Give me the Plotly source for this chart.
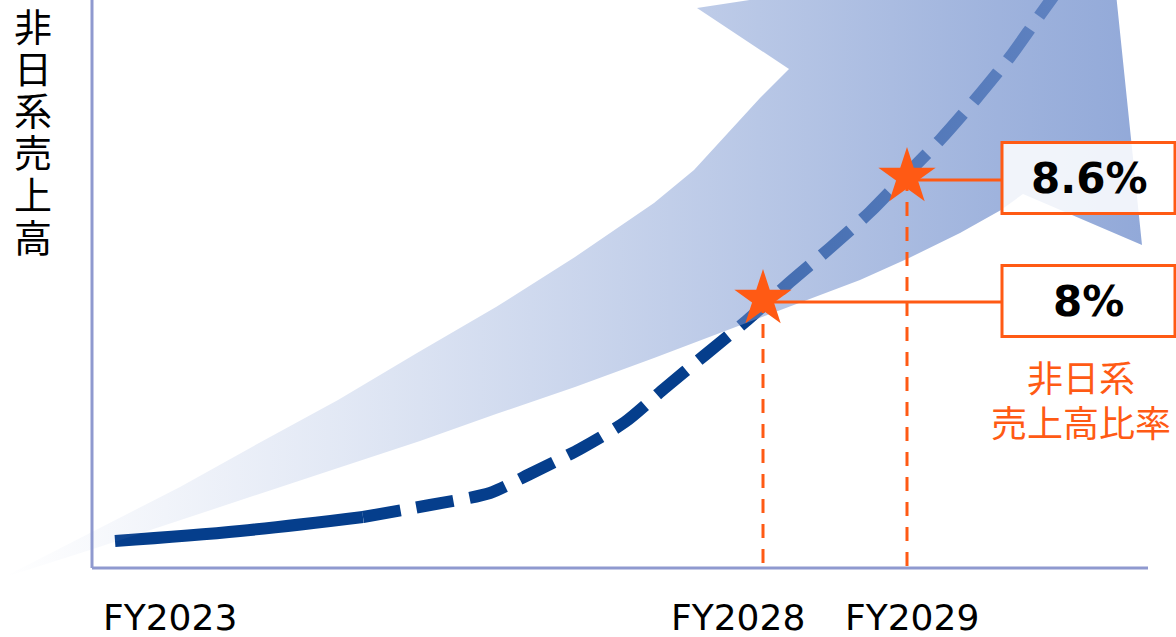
import plotly.graph_objects as go

# Data units: x = distance to the right of the vertical axis, y = height above the horizontal axis
# Sales trajectory (actual part, solid)
solid_x = [23, 148, 271]
solid_y = [27, 37, 51]
# Sales trajectory (plan part, dashed)
plan_x = [271, 338, 398, 438, 488, 533, 573, 613, 653, 698, 738, 778, 813, 848, 883, 918, 943, 966]
plan_y = [51, 63, 75, 94, 119, 146, 180, 213, 246, 286, 320, 356, 392, 428, 468, 511, 546, 578]

# Growth arrow outline (upper edge -> arrow head -> lower edge)
arrow_x = [-90, -2, 88, 167, 246, 325, 404, 483, 523, 562, 602, 641, 668, 697,
           605, 1019, 1050, 931,
           909, 868, 817, 768, 708, 641, 562, 483, 404, 328, 246, 168, 88, -2, -90]
arrow_y = [-10, 35, 81, 125, 168, 215, 261, 311, 338, 365, 398, 440, 470, 499,
           560, 623, 323, 374,
           358, 335, 310, 288, 265, 240, 210, 181, 154, 127, 100, 74, 48, 18, -10]

# Milestones
milestone_labels = ["FY2028", "FY2029"]
milestone_x = [671, 815]
milestone_y = [269, 391]
ratio_labels = ["8%", "8.6%"]
ratio_box_y = [267, 390]
connector_y = [266, 388]

# Axis tick labels
tick_labels = ["FY2023", "FY2028", "FY2029"]
tick_x = [78, 646, 820]

y_title = "非日系売上高"
caption_lines = ["非日系", "売上高比率"]

NAVY = "#053E8C"
ORANGE = "#FF5A14"
AXIS = "#8F99CF"
BOX_X0, BOX_X1 = 910, 1083

fig = go.Figure()

# trajectory
fig.add_trace(go.Scatter(x=solid_x, y=solid_y, mode="lines",
                         line=dict(color=NAVY, width=12, shape="spline"), hoverinfo="skip"))
fig.add_trace(go.Scatter(x=plan_x, y=plan_y, mode="lines",
                         line=dict(color=NAVY, width=12, shape="spline", smoothing=0.7, dash="38px,16px"),
                         hoverinfo="skip"))

# arrow with horizontal gradient (drawn over the line, semi transparent)
fig.add_trace(go.Scatter(x=arrow_x, y=arrow_y, mode="lines", fill="toself",
                         line=dict(width=0, color="rgba(0,0,0,0)"),
                         fillgradient=dict(type="horizontal",
                                           colorscale=[[0, "rgba(122,150,208,0.0)"],
                                                       [0.3, "rgba(122,150,208,0.22)"],
                                                       [0.66, "rgba(122,150,208,0.53)"],
                                                       [0.87, "rgba(122,150,208,0.72)"],
                                                       [1, "rgba(122,150,208,0.82)"]]),
                         hoverinfo="skip"))

# vertical dashed guides and connectors
for mx, my, cy in zip(milestone_x, milestone_y, connector_y):
    fig.add_trace(go.Scatter(x=[mx, mx], y=[my, 0], mode="lines",
                             line=dict(color=ORANGE, width=3, dash="14px,11px"), hoverinfo="skip"))
    fig.add_trace(go.Scatter(x=[mx, BOX_X0], y=[cy, cy], mode="lines",
                             line=dict(color=ORANGE, width=3), hoverinfo="skip"))

# stars
fig.add_trace(go.Scatter(x=milestone_x, y=milestone_y, mode="markers",
                         marker=dict(symbol="star", size=43, color=ORANGE, line=dict(width=0)),
                         hoverinfo="skip"))

shapes = [
    dict(type="line", x0=0, x1=0, y0=0, y1=600, line=dict(color=AXIS, width=3), layer="below"),
    dict(type="line", x0=0, x1=1056, y0=0, y1=0, line=dict(color=AXIS, width=3), layer="below"),
]
for by in ratio_box_y:
    shapes.append(dict(type="rect", x0=BOX_X0, x1=BOX_X1, y0=by - 35.5, y1=by + 35.5,
                       line=dict(color=ORANGE, width=3), fillcolor="rgba(255,255,255,0.86)",
                       layer="above"))

annotations = []
for lab, by in zip(ratio_labels, ratio_box_y):
    annotations.append(dict(x=(BOX_X0 + BOX_X1) / 2, y=by, text="<b>" + lab + "</b>", showarrow=False,
                            font=dict(family="DejaVu Sans", size=42, color="black"),
                            xanchor="center", yanchor="middle"))
for i, line in enumerate(caption_lines):
    annotations.append(dict(x=989, y=192 - i * 45, text=line, showarrow=False,
                            font=dict(family="Noto Sans CJK JP", size=36, color=ORANGE),
                            xanchor="center", yanchor="middle"))
for lab, tx in zip(tick_labels, tick_x):
    annotations.append(dict(x=tx, y=-49, text=lab, showarrow=False,
                            font=dict(family="DejaVu Sans", size=36, color="black"),
                            xanchor="center", yanchor="middle"))
for i, ch in enumerate(y_title):
    annotations.append(dict(x=-59, y=544 - i * 42.2, text=ch, showarrow=False,
                            font=dict(family="Noto Sans CJK JP", size=38, color="black"),
                            xanchor="center", yanchor="middle"))

fig.update_layout(
    width=1176, height=637,
    margin=dict(l=0, r=0, t=0, b=0),
    paper_bgcolor="white", plot_bgcolor="white",
    showlegend=False,
    xaxis=dict(range=[-92, 1084], visible=False, fixedrange=True),
    yaxis=dict(range=[-69, 568], visible=False, fixedrange=True),
    shapes=shapes, annotations=annotations,
)

fig.write_html("out.html", config={"displayModeBar": False},
               post_script="document.body.style.margin='0';")
